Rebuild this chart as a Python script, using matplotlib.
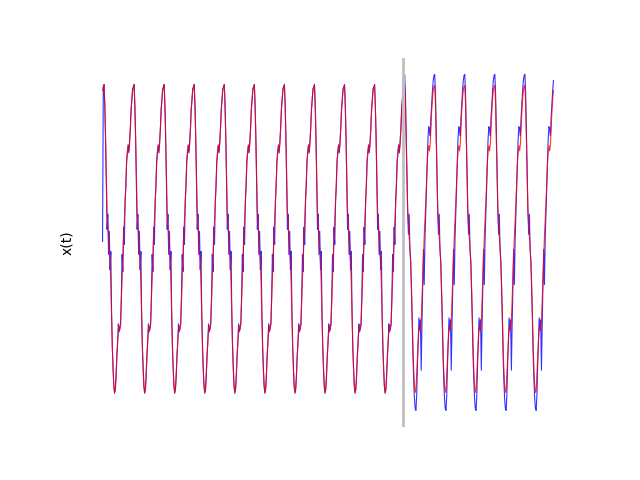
import numpy as np
import matplotlib
matplotlib.use("Agg")
import matplotlib.pyplot as plt

# time axis: 15 cycles, sampled 40 times per cycle, split at t = 10
t_end = 15.0
t_split = 10.0
samples_per_cycle = 40

# one cycle of the fitted/predicted signal (red), starting at the peak
red_cycle = [15.3, 13.5, 10.0, 6.0, 2.8, 1.5, 0.2, -1.0, -2.2, -4.5,
             -7.5, -10.5, -13.0, -14.5, -15.2, -15.0, -13.5, -11.8, -10.2, -9.0,
             -8.6, -9.0, -8.2, -6.0, -3.8, -1.5, 0.3, 1.8, 3.5, 5.5,
             7.5, 8.8, 9.3, 8.8, 9.5, 11.2, 12.8, 14.0, 14.8, 15.2]

# one cycle of the noisy measured signal (blue), training part
blue_train_cycle = [15.4, 13.2, 10.2, 5.5, 1.0, 2.5, -1.5, 0.8, -3.0, -1.2,
                    -7.2, -10.8, -12.8, -14.6, -15.3, -14.8, -13.7, -11.5, -10.4, -8.4,
                    -9.2, -8.8, -8.5, -5.8, -1.5, -3.2, 1.2, -0.5, 3.8, 5.2,
                    7.8, 8.5, 9.4, 8.6, 9.8, 11.0, 13.0, 13.8, 15.0, 15.1]

# one cycle of the measured signal (blue) after the split
blue_test_cycle = [16.4, 14.5, 10.5, 6.0, 3.0, 0.5, 2.5, -1.0, -2.2, -5.0,
                   -8.0, -11.5, -14.0, -15.8, -16.8, -17.0, -15.5, -12.5, -10.0, -7.8,
                   -9.0, -8.0, -13.0, -8.5, -5.0, -1.0, -4.5, 0.0, 2.5, 5.0,
                   7.5, 10.0, 11.2, 11.0, 10.3, 12.2, 13.5, 14.8, 15.8, 16.3]

blue_first = -0.2      # first measured value at t = 0
start_phase_index = 38  # t = 0 sits just before the first peak

n = int(t_end * samples_per_cycle) + 1
t = np.linspace(0, t_end, n)
idx = (np.arange(n) + start_phase_index) % samples_per_cycle

red = np.array(red_cycle)[idx]
blue = np.where(t < t_split,
                np.array(blue_train_cycle)[idx],
                np.array(blue_test_cycle)[idx])
blue[0] = blue_first

fig, ax = plt.subplots(figsize=(6.4, 4.8), dpi=100)
ax.plot(t, blue, color='b', lw=0.8, alpha=0.8)
ax.plot(t, red, color='r', lw=0.8, alpha=0.8)
ax.axvline(t_split, color='silver', lw=2)

ax.set_frame_on(False)
ax.set_xticks([])
ax.set_yticks([])
ax.set_ylabel('x(t)')

plt.savefig('out.png', dpi=100)
